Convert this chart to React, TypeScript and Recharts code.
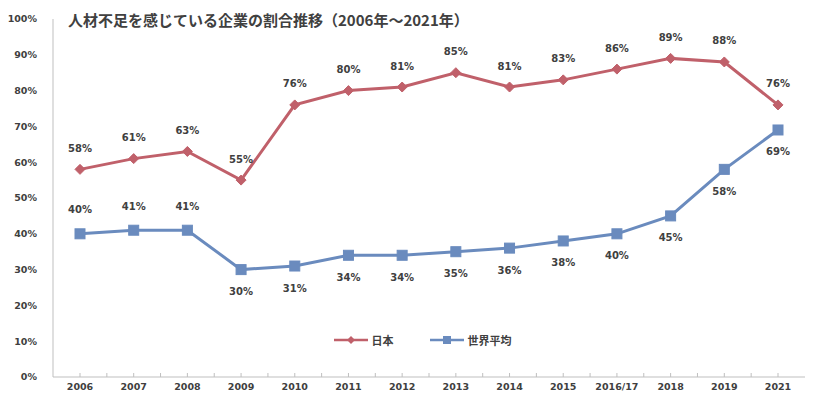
import React from "react";
import { LineChart, Line, XAxis, YAxis, Legend, LabelList } from "recharts";

const categories = ["2006", "2007", "2008", "2009", "2010", "2011", "2012", "2013", "2014", "2015", "2016/17", "2018", "2019", "2021"];
const japan = [58, 61, 63, 55, 76, 80, 81, 85, 81, 83, 86, 89, 88, 76];
const world = [40, 41, 41, 30, 31, 34, 34, 35, 36, 38, 40, 45, 58, 69];
const worldLabelAbove = [true, true, true, false, false, false, false, false, false, false, false, false, false, false];
const yTicks = [0, 10, 20, 30, 40, 50, 60, 70, 80, 90, 100];

const data = categories.map((c, i) => ({ year: c, japan: japan[i], world: world[i] }));

const RED = "#C0606A";
const BLUE = "#6A8BBE";
const TEXT = "#404040";
const AXIS = "#BFBFBF";
const FONT = "'DejaVu Sans', Verdana, sans-serif";
const TICK_MARGIN = 6;
const HALF_BAND = 26.85;

const Diamond = (props: any) => {
  const { cx, cy } = props;
  if (cx == null || cy == null) return null;
  const r = 5;
  return <polygon points={`${cx},${cy - r} ${cx + r},${cy} ${cx},${cy + r} ${cx - r},${cy}`} fill={RED} stroke={RED} strokeWidth={1} />;
};

const Square = (props: any) => {
  const { cx, cy } = props;
  if (cx == null || cy == null) return null;
  const s = 10;
  return <rect x={cx - s / 2} y={cy - s / 2} width={s} height={s} fill={BLUE} stroke={BLUE} strokeWidth={1} />;
};

const JapanLabel = (props: any) => {
  const { x, y, value } = props;
  return (
    <text x={x} y={y - 21} textAnchor="middle" dominantBaseline="central" fontFamily={FONT} fontWeight="bold" fontSize={10} fill={TEXT}>
      {value}%
    </text>
  );
};

const WorldLabel = (props: any) => {
  const { x, y, value, index } = props;
  const above = worldLabelAbove[index];
  return (
    <text x={x} y={above ? y - 24 : y + 22} textAnchor="middle" dominantBaseline="central" fontFamily={FONT} fontWeight="bold" fontSize={10} fill={TEXT}>
      {value}%
    </text>
  );
};

const XTick = (props: any) => {
  const { x, y, payload, index } = props;
  const axisY = y - TICK_MARGIN;
  return (
    <g>
      <line x1={x} y1={axisY} x2={x} y2={axisY - 4} stroke={AXIS} strokeWidth={1} />
      {index < categories.length - 1 && (
        <line x1={x + HALF_BAND} y1={axisY} x2={x + HALF_BAND} y2={axisY - 4} stroke={AXIS} strokeWidth={1} />
      )}
      <text x={x} y={y} dy="0.71em" textAnchor="middle" fontFamily={FONT} fontWeight="bold" fontSize={9.5} fill={TEXT}>
        {payload.value}
      </text>
    </g>
  );
};

const LegendContent = () => {
  const items = [
    { name: "日本", color: RED, shape: "diamond" },
    { name: "世界平均", color: BLUE, shape: "square" },
  ];
  return (
    <div style={{ display: "flex", justifyContent: "center", gap: 35, fontFamily: "'Noto Sans CJK JP', sans-serif", fontWeight: "bold", fontSize: 11, color: TEXT }}>
      {items.map((it) => (
        <div key={it.name} style={{ display: "flex", alignItems: "center" }}>
          <svg width={36} height={12} style={{ marginRight: 3 }}>
            <line x1={1} y1={6} x2={35} y2={6} stroke={it.color} strokeWidth={2.5} />
            {it.shape === "diamond" ? (
              <polygon points="18,2 22,6 18,10 14,6" fill={it.color} />
            ) : (
              <rect x={14} y={2} width={8} height={8} fill={it.color} />
            )}
          </svg>
          <span>{it.name}</span>
        </div>
      ))}
    </div>
  );
};

export default function App() {
  return (
    <div style={{ position: "absolute", left: 0, top: 0, width: 820, height: 398, background: "#fff" }}>
      <LineChart width={820} height={398} data={data} margin={{ top: 19, right: 15, bottom: 0, left: 0 }}>
        <XAxis
          dataKey="year"
          axisLine={{ stroke: AXIS }}
          tickLine={false}
          tickSize={0}
          tickMargin={TICK_MARGIN}
          height={21}
          padding={{ left: 27, right: 27 }}
          tick={<XTick />}
          interval={0}
        />
        <YAxis
          domain={[0, 100]}
          ticks={yTicks}
          tickFormatter={(v: number) => `${v}%`}
          axisLine={{ stroke: AXIS }}
          tickLine={false}
          tickMargin={10}
          width={53}
          tick={{ fontFamily: FONT, fontWeight: "bold", fontSize: 9.5, fill: TEXT }}
        />
        <Legend verticalAlign="middle" align="center" wrapperStyle={{ top: 332, left: 60, width: 724 }} content={<LegendContent />} />
        <Line dataKey="japan" name="日本" stroke={RED} strokeWidth={3} dot={<Diamond />} activeDot={false} isAnimationActive={false}>
          <LabelList dataKey="japan" content={<JapanLabel />} />
        </Line>
        <Line dataKey="world" name="世界平均" stroke={BLUE} strokeWidth={3} dot={<Square />} activeDot={false} isAnimationActive={false}>
          <LabelList dataKey="world" content={<WorldLabel />} />
        </Line>
      </LineChart>
      <div
        style={{
          position: "absolute",
          left: 68,
          top: 9,
          fontFamily: "'Noto Sans CJK JP', sans-serif",
          fontWeight: "bold",
          fontSize: 15,
          lineHeight: "22px",
          color: TEXT,
          whiteSpace: "nowrap",
        }}
      >
        人材不足を感じている企業の割合推移（2006年～2021年）
      </div>
    </div>
  );
}
